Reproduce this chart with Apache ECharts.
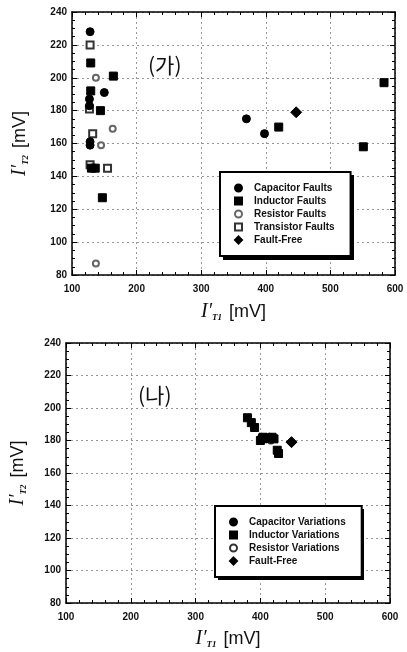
<!DOCTYPE html>
<html>
<head>
<meta charset="utf-8">
<script src="https://cdn.jsdelivr.net/npm/echarts@6/dist/echarts.min.js"></script>
<style>
  html, body { margin: 0; padding: 0; background: #fff; }
  #main { width: 407px; height: 652px; }
</style>
</head>
<body>
<div id="main"></div>
<script>
// (가) fault simulation: [I'T1, I'T2] in mV
const capFaults = [[128, 228], [150, 191], [127, 187], [127, 183], [128, 161], [128, 159], [370, 175], [398, 166]];
const indFaults = [[129, 209], [164, 201], [129, 192], [144, 180], [130, 145], [136, 145], [147, 127], [420, 170], [551, 158], [583, 197]];
const resFaults = [[137, 200], [163, 169], [145, 159], [137, 87]];
const trnFaults = [[128, 220], [127, 181], [132, 166], [128, 147], [155, 145]];
const faultFree1 = [[447, 179]];

// (나) parameter variations
const capVars = [[402, 182], [409, 181], [414, 182]];
const indVars = [[380, 194], [386, 191], [391, 188], [400, 180], [404, 182], [418, 182], [421, 181], [426, 174], [428, 172]];
const resVars = [[407, 181], [416, 180]];
const faultFree2 = [[448, 179]];

const xTicks = { min: 100, max: 600, interval: 100 };
const yTicks = { min: 80, max: 240, interval: 20 };

const legendTop = ['Capacitor Faults', 'Inductor Faults', 'Resistor Faults', 'Transistor Faults', 'Fault-Free'];
const legendBottom = ['Capacitor Variations', 'Inductor Variations', 'Resistor Variations', 'Fault-Free'];

const myChart = echarts.init(document.getElementById('main'));

const labelFont = { fontFamily: 'Liberation Sans', fontWeight: 'bold', fontSize: 10, color: '#111' };

// 轴名 I'T1 [mV]
const axisNameRich = {
  i: { fontFamily: 'Liberation Serif', fontStyle: 'italic', fontSize: 20, color: '#111' },
  s: { fontFamily: 'Liberation Serif', fontStyle: 'italic', fontWeight: 'bold', fontSize: 9, color: '#111', verticalAlign: 'bottom', padding: [10, 7, 0, 0] },
  u: { fontFamily: 'Liberation Sans', fontSize: 18, color: '#111' }
};

function mainX(grid, nameGap, sub) {
  return {
    type: 'value', gridIndex: grid, position: 'bottom', ...xTicks,
    name: `{i|I′}{s|${sub}}{u|[mV]}`, nameLocation: 'middle', nameGap: nameGap,
    nameTextStyle: { rich: axisNameRich },
    axisLine: { lineStyle: { color: '#000', width: 1.5 } },
    axisTick: { inside: true, length: 5, lineStyle: { color: '#000' } },
    minorTick: { show: true, splitNumber: 5, length: 3, lineStyle: { color: '#000' } },
    axisLabel: { ...labelFont, margin: 9 },
    splitLine: { show: true, lineStyle: { color: '#999', type: [2, 3], width: 1 } }
  };
}
function mainY(grid, nameGap, sub) {
  return {
    type: 'value', gridIndex: grid, position: 'left', ...yTicks,
    name: `{i|I′}{s|${sub}}{u|[mV]}`, nameLocation: 'middle', nameGap: nameGap, nameRotate: 90,
    nameTextStyle: { rich: axisNameRich },
    axisLine: { lineStyle: { color: '#000', width: 1.5 } },
    axisTick: { inside: true, length: 5, lineStyle: { color: '#000' } },
    minorTick: { show: true, splitNumber: 4, length: 3, lineStyle: { color: '#000' } },
    axisLabel: { ...labelFont, margin: 5 },
    splitLine: { show: true, lineStyle: { color: '#999', type: [2, 3], width: 1 } }
  };
}
// 上/右 边框刻度
function boxAxis(kind, grid) {
  return {
    type: 'value', gridIndex: grid, position: kind === 'x' ? 'top' : 'right',
    ...(kind === 'x' ? xTicks : yTicks),
    axisLine: { show: true, lineStyle: { color: '#000', width: 1.5 } },
    axisTick: { inside: true, length: 5, lineStyle: { color: '#000' } },
    minorTick: { show: true, splitNumber: kind === 'x' ? 5 : 4, length: 3, lineStyle: { color: '#000' } },
    axisLabel: { show: false },
    splitLine: { show: false }
  };
}

function legendBox(names, left, top) {
  return {
    data: names, orient: 'vertical', left: left, top: top, z: 10,
    itemWidth: 7, itemHeight: 7, itemGap: 1,
    padding: [10, 16, 10, 14],
    backgroundColor: '#fff', borderColor: '#000', borderWidth: 2,
    inactiveColor: '#ccc',
    textStyle: { fontFamily: 'Liberation Sans', fontWeight: 'bold', fontSize: 10, color: '#111', lineHeight: 12, padding: [0, 0, 0, 7] }
  };
}

function pts(name, data, symbol, size, xi, yi, color, bw) {
  return {
    name: name, type: 'scatter', xAxisIndex: xi, yAxisIndex: yi,
    symbol: symbol, symbolSize: size, data: data,
    itemStyle: { color: color || '#000', borderColor: color || '#000', borderWidth: bw || 1, opacity: 1 },
    emphasis: { disabled: true }
  };
}

// 图例阴影 (右/下)
function legendShadow(x, y, w, h) {
  return { type: 'rect', left: x + 3, top: y + 3, z: 5, shape: { width: w, height: h }, style: { fill: '#000' } };
}

const option = {
  backgroundColor: '#fff',
  animation: false,
  grid: [
    { left: 72, right: 12, top: 12, height: 263 },
    { left: 65, right: 17, top: 343, height: 260 }
  ],
  xAxis: [mainX(0, 27, 'T1'), mainX(1, 26, 'T1'), boxAxis('x', 0), boxAxis('x', 1)],
  yAxis: [mainY(0, 42, 'T2'), mainY(1, 38, 'T2'), boxAxis('y', 0), boxAxis('y', 1)],
  legend: [legendBox(legendTop, 220, 172), legendBox(legendBottom, 215, 506)],
  graphic: [
    legendShadow(220, 172, 131, 85),
    legendShadow(215, 506, 146, 71),
    { type: 'text', left: 148, top: 55, style: { text: '(가)', fontFamily: 'Noto Sans CJK KR', fontWeight: 400, fontSize: 21, fill: '#111' } },
    { type: 'text', left: 138, top: 385, style: { text: '(나)', fontFamily: 'Noto Sans CJK KR', fontWeight: 400, fontSize: 21, fill: '#111' } }
  ],
  series: [
    pts('Resistor Faults', resFaults, 'emptyCircle', 6, 0, 0, '#666', 0.8),
    pts('Transistor Faults', trnFaults, 'emptyRect', 7, 0, 0, '#333', 1),
    pts('Capacitor Faults', capFaults, 'circle', 8, 0, 0),
    pts('Inductor Faults', indFaults, 'rect', 8, 0, 0),
    pts('Fault-Free', faultFree1, 'diamond', 11, 0, 0),
    pts('Resistor Variations', resVars, 'emptyCircle', 6, 1, 1, '#333', 1),
    pts('Capacitor Variations', capVars, 'circle', 8, 1, 1),
    pts('Inductor Variations', indVars, 'rect', 8, 1, 1),
    pts('Fault-Free', faultFree2, 'diamond', 11, 1, 1)
  ]
};
option && myChart.setOption(option);
</script>
</body>
</html>
